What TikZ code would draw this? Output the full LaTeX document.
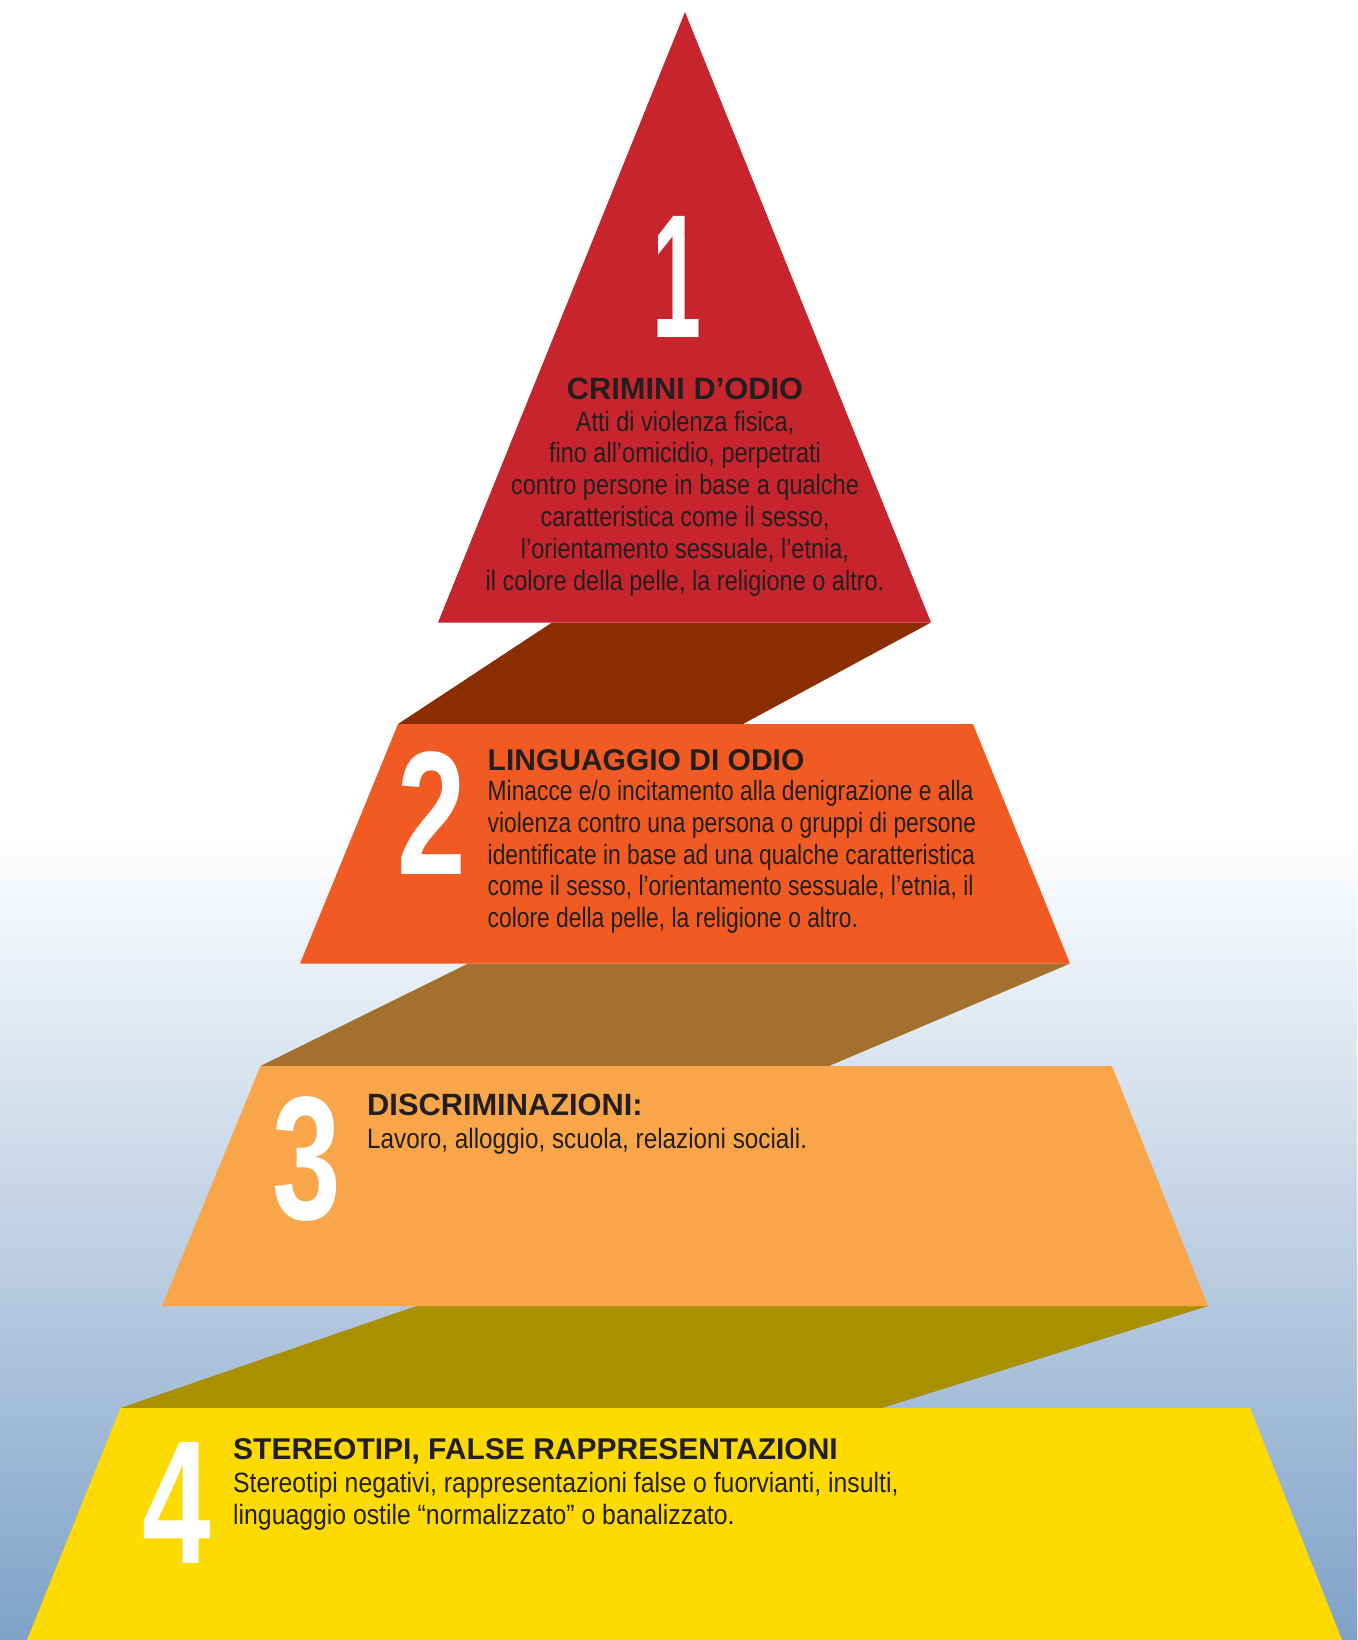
\documentclass[tikz,border=0pt]{standalone}
\usepackage{fontspec}
\setmainfont{Liberation Sans}
\newfontfamily\bodyA{Liberation Sans}[FakeStretch=0.84]
\newfontfamily\bodyB{Liberation Sans}[FakeStretch=0.815]
\newfontfamily\bodyC{Liberation Sans}[FakeStretch=0.867]
\newfontfamily\bodyD{Liberation Sans}[FakeStretch=0.885]
\newfontfamily\numfont{Liberation Sans}[FakeStretch=0.7]
\newfontfamily\onefont{Liberation Sans}[FakeStretch=0.5]
\definecolor{txt}{HTML}{231F20}
\definecolor{cRed}{HTML}{C8242E}
\definecolor{cBand1}{HTML}{8A2D00}
\definecolor{cOrange}{HTML}{F15A22}
\definecolor{cBand2}{HTML}{A4702E}
\definecolor{cLight}{HTML}{F9A54A}
\definecolor{cBand3}{HTML}{A89000}
\definecolor{cYellow}{HTML}{FDDB00}
\definecolor{skyB}{HTML}{7FA2C8}
\tikzset{
  body/.style={font=\fontsize{28}{32}\selectfont, text=txt, inner sep=0pt},
  ttl/.style={font=\bfseries\fontsize{30}{32}\selectfont, text=txt, inner sep=0pt},
  num/.style={font=\numfont\bfseries\fontsize{176}{176}\selectfont, text=white, inner sep=0pt, anchor=base},
}
\begin{document}
\begin{tikzpicture}[x=1pt,y=-1pt]
\useasboundingbox (0,0) rectangle (1357,1640);
% background
\fill[white] (0,0) rectangle (1357,1640);
\shade[top color=white, bottom color=skyB] (0,830) rectangle (1357,1640);
% bands
\fill[cBand1] (552,622.5) -- (931,622.5) -- (743,724) -- (398,724) -- cycle;
\fill[cBand2] (468,963.6) -- (1070,963.6) -- (829,1066) -- (260.5,1066) -- cycle;
\fill[cBand3] (416.5,1306) -- (1208,1306) -- (882,1408) -- (120.5,1408) -- cycle;
% levels
\fill[cRed] (685,12) -- (931,622.5) -- (438,622.5) -- cycle;
\fill[cOrange] (398,724) -- (973,724) -- (1070,963.6) -- (300,963.6) -- cycle;
\fill[cLight] (260.5,1066) -- (1112,1066) -- (1208,1306) -- (162,1306) -- cycle;
\fill[cYellow] (120.5,1408) -- (1250,1408) -- (1342,1640) -- (27,1640) -- cycle;
% numbers
\node[num, font=\onefont\bfseries\fontsize{176}{176}\selectfont] (n1) at (676.5,337) {1};
\node[num] (n2) at (431.5,874) {2};
\node[num] (n3) at (307,1219) {3};
\node[num] (n4) at (177,1563) {4};
% level 1
\node[ttl, anchor=base, font=\bfseries\fontsize{30.8}{32}\selectfont] (h1) at (685,399) {CRIMINI D’ODIO};
\foreach \t [count=\i] in {{Atti di violenza fisica,},{fino all’omicidio, perpetrati},{contro persone in base a qualche},{caratteristica come il sesso,},{l’orientamento sessuale, l’etnia,},{il colore della pelle, la religione o altro.}}
  \node[body, anchor=base] (a\i) at (685,{431+31.8*(\i-1)}) {\bodyA\t};
% level 2
\node[ttl, anchor=base west] (h2) at (487.5,770) {LINGUAGGIO DI ODIO};
\foreach \t [count=\i] in {{Minacce e/o incitamento alla denigrazione e alla},{violenza contro una persona o gruppi di persone},{identificate in base ad una qualche caratteristica},{come il sesso, l’orientamento sessuale, l’etnia, il},{colore della pelle, la religione o altro.}}
  \node[body, anchor=base west] (b\i) at (487.5,{800.7+31.7*(\i-1)}) {\bodyB\t};
% level 3
\node[ttl, anchor=base west, font=\bfseries\fontsize{30.8}{32}\selectfont] (h3) at (367,1115.7) {DISCRIMINAZIONI:};
\node[body, anchor=base west] (c1) at (367,1148.3) {\bodyC Lavoro, alloggio, scuola, relazioni sociali.};
% level 4
\node[ttl, anchor=base west] (h4) at (233,1459) {STEREOTIPI, FALSE RAPPRESENTAZIONI};
\node[body, anchor=base west] (d1) at (233,1492) {\bodyD Stereotipi negativi, rappresentazioni false o fuorvianti, insulti,};
\node[body, anchor=base west] (d2) at (233,1524) {\bodyD linguaggio ostile “normalizzato” o banalizzato.};
\end{tikzpicture}
\end{document}
